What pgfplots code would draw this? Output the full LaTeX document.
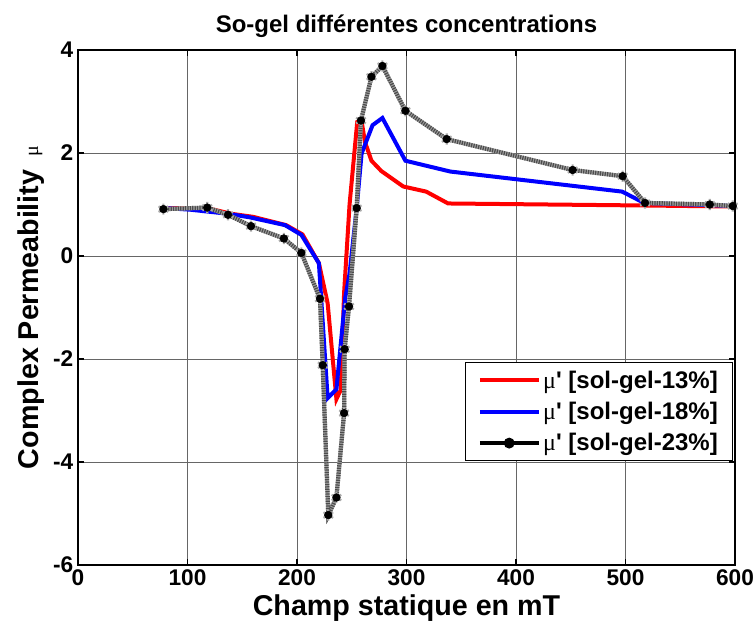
\documentclass[border=0pt]{standalone}
\usepackage{fontspec}
\setmainfont{Liberation Sans}
\newfontfamily\serifmu{Liberation Serif}
\usepackage{pgfplots}
\pgfplotsset{compat=1.18}
\usepackage{pgfplotstable}

\pgfplotstableread{
x y
80 0.93
120 0.92
140 0.82
160 0.76
190 0.60
205 0.42
220 -0.14
228 -0.92
236 -2.78
240 -2.60
243 -0.72
248 1.00
255 2.60
259 2.62
262 2.22
268 1.85
277 1.65
297 1.35
318 1.25
338 1.02
520 0.98
600 0.96
}\redtab

\pgfplotstableread{
x y
80 0.93
102 0.90
137 0.82
157 0.75
189 0.60
204 0.41
220 -0.14
228 -2.76
236 -2.59
244 -0.82
248 -0.34
254.5 0.93
259 1.99
269 2.54
278 2.68
299 1.85
340 1.64
497 1.25
517 1.03
600 0.97
}\bluetab

\pgfplotstableread{
x y
78 0.91
118 0.94
137 0.80
158 0.58
188 0.34
204 0.06
221 -0.83
223.5 -2.12
228.6 -5.03
236 -4.69
243 -3.05
243.5 -1.81
247.5 -0.98
254.5 0.93
258.4 2.63
268 3.48
278 3.69
299 2.82
336.7 2.27
451.7 1.67
497.4 1.55
517.8 1.03
577 1.00
598 0.97
}\blacktab

\newcommand{\mup}{{\serifmu\mdseries μ}\textquotesingle}

\begin{document}
\begin{tikzpicture}
\begin{axis}[name=ax, at={(0,0)}, anchor=south west,
  scale only axis, width=492.75pt, height=386.25pt,
  xmin=0, xmax=600, ymin=-6, ymax=4,
  xtick={0,100,...,600}, ytick={-6,-4,...,4},
  grid=major, grid style={black!60, line width=0.5pt},
  axis line style={line width=1.5pt},
  tick style={black, line width=0.8pt}, tick align=inside, major tick length=4.5pt,
  ticklabel style={font=\fontsize{17}{19}\selectfont\bfseries},
  /pgf/number format/assume math mode=true,
  xlabel={Champ statique en mT},
  ylabel={Complex Permeability\hspace{0.45em}{\serifmu\mdseries\fontsize{15}{16}\selectfont μ}},
  label style={font=\fontsize{21.5}{23}\selectfont\bfseries},
  title={So-gel différentes concentrations},
  title style={font=\fontsize{18}{20}\selectfont\bfseries},
  legend style={at={(0.997,0.394)}, anchor=north east, draw=black, line width=0.8pt,
    font=\fontsize{18}{20}\selectfont\bfseries, cells={anchor=west}, row sep=5pt,
    inner xsep=9pt, inner ysep=4pt},
  legend image code/.code={\draw[mark repeat=2,mark phase=2,#1] plot coordinates {(0pt,0pt) (22pt,0pt) (44pt,0pt)};},
]
\addplot[red, line width=3pt] table {\redtab};
\addlegendentry{\mup\ [sol-gel-13\%]}
\addplot[blue, line width=3pt] table {\bluetab};
\addlegendentry{\mup\ [sol-gel-18\%]}
\addplot[forget plot, gray!75, line width=3.2pt] table {\blacktab};
\addplot[forget plot, black!70, line width=3.2pt, dash pattern=on 0.9pt off 0.9pt] table {\blacktab};
\addplot[forget plot, only marks, mark=asterisk, mark size=4.2pt, mark options={gray!65, line width=1.6pt}] table {\blacktab};
\addplot[forget plot, only marks, mark=*, mark size=2.9pt, mark options={black}] table {\blacktab};
\addlegendimage{black, line width=3pt, mark=*, mark size=2.5pt, mark options={solid}}
\addlegendentry{\mup\ [sol-gel-23\%]}
\end{axis}
\pgfresetboundingbox
\path[use as bounding box] ([shift={(-58.5pt,-47.25pt)}]ax.south west) rectangle ([shift={(507pt,423.75pt)}]ax.south west);
\end{tikzpicture}
\end{document}
